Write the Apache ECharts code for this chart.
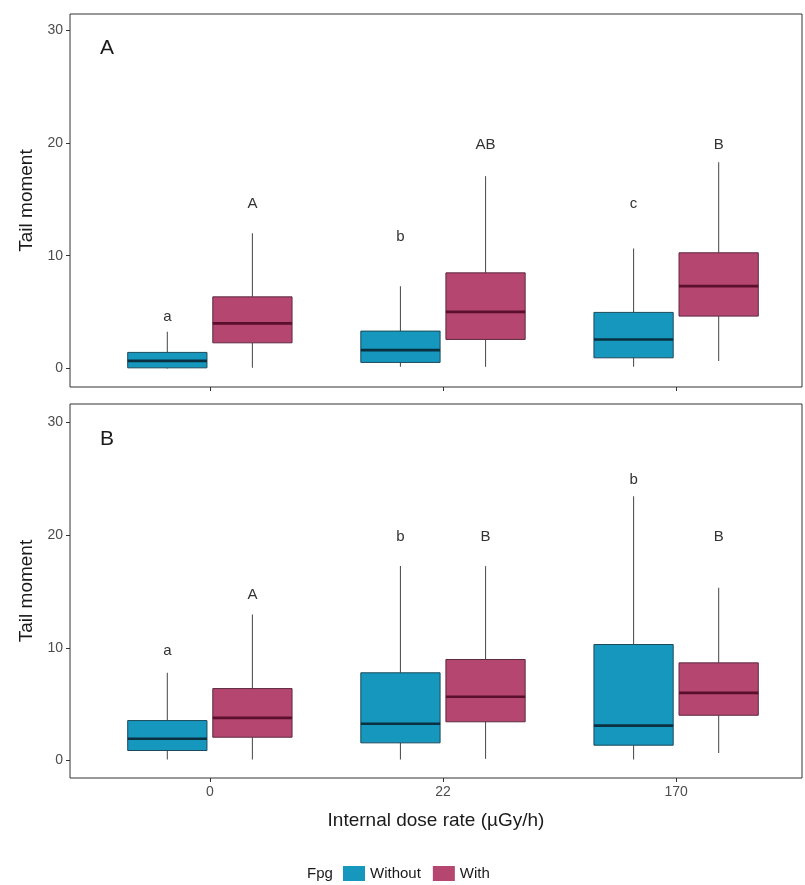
<!DOCTYPE html>
<html>
<head>
<meta charset="utf-8">
<script src="https://cdn.jsdelivr.net/npm/echarts@6/dist/echarts.min.js"></script>
<style>
html,body{margin:0;padding:0;background:#fff;}
#chart{width:805px;height:885px;}
</style>
</head>
<body>
<div id="chart"></div>
<script>
// ---- data ----
const categories = ['0', '22', '170'];
const groups = ['Without', 'With'];
const yTicks = [0, 10, 20, 30];

// Panel A – Without
const aWithoutLow  = [0.00, 0.14, 0.14];
const aWithoutQ1   = [0.05, 0.53, 0.94];
const aWithoutMed  = [0.67, 1.62, 2.57];
const aWithoutQ3   = [1.42, 3.31, 4.97];
const aWithoutHigh = [3.25, 7.30, 10.65];
const aWithoutLetters = ['a', 'b', 'c'];
const aWithoutLetterY = [4.6, 11.7, 14.6];
// Panel A – With
const aWithLow  = [0.05, 0.14, 0.65];
const aWithQ1   = [2.27, 2.57, 4.64];
const aWithMed  = [4.00, 5.02, 7.30];
const aWithQ3   = [6.35, 8.48, 10.26];
const aWithHigh = [12.00, 17.06, 18.30];
const aWithLetters = ['A', 'AB', 'B'];
const aWithLetterY = [14.6, 19.8, 19.8];

// Panel B – Without
const bWithoutLow  = [0.09, 0.09, 0.09];
const bWithoutQ1   = [0.89, 1.57, 1.36];
const bWithoutMed  = [1.93, 3.26, 3.10];
const bWithoutQ3   = [3.55, 7.79, 10.30];
const bWithoutHigh = [7.79, 17.26, 23.47];
const bWithoutLetters = ['a', 'b', 'b'];
const bWithoutLetterY = [9.7, 19.87, 24.96];
// Panel B – With
const bWithLow  = [0.09, 0.15, 0.68];
const bWithQ1   = [2.07, 3.44, 4.02];
const bWithMed  = [3.79, 5.66, 6.01];
const bWithQ3   = [6.39, 8.97, 8.67];
const bWithHigh = [12.97, 17.26, 15.34];
const bWithLetters = ['A', 'B', 'B'];
const bWithLetterY = [14.7, 19.87, 19.87];

// ---- styles ----
const FILL = { Without: '#1597BE', With: '#B4466F' };
const BORDER = { Without: '#1d4a5a', With: '#5e2a40' };
const MEDIAN = { Without: '#0b3040', With: '#5a0f2c' };
const DODGE = 0.1825;
const BOXW = 0.34;

function buildData(low, q1, med, q3, high, letterY, g) {
  return categories.map((c, i) =>
    [i + 1 + (g === 0 ? -DODGE : DODGE), low[i], q1[i], med[i], q3[i], high[i], letterY[i]]);
}

const letterStore = {};
function makeRender(group) {
  return function (params, api) {
    const x = api.value(0);
    const pLow = api.coord([x, api.value(1)]);
    const pQ1 = api.coord([x, api.value(2)]);
    const pMed = api.coord([x, api.value(3)]);
    const pQ3 = api.coord([x, api.value(4)]);
    const pHigh = api.coord([x, api.value(5)]);
    const pLet = api.coord([x, api.value(6)]);
    const hw = api.size([BOXW, 0])[0] / 2;
    const letter = letterStore[params.seriesIndex][params.dataIndex];
    return {
      type: 'group',
      children: [
        { type: 'line', shape: { x1: pHigh[0], y1: pHigh[1], x2: pQ3[0], y2: pQ3[1] },
          style: { stroke: '#555', lineWidth: 1.1 } },
        { type: 'line', shape: { x1: pQ1[0], y1: pQ1[1], x2: pLow[0], y2: pLow[1] },
          style: { stroke: '#555', lineWidth: 1.1 } },
        { type: 'rect', shape: { x: pQ3[0] - hw, y: pQ3[1], width: hw * 2, height: pQ1[1] - pQ3[1] },
          style: { fill: FILL[group], stroke: BORDER[group], lineWidth: 1 } },
        { type: 'line', shape: { x1: pMed[0] - hw, y1: pMed[1], x2: pMed[0] + hw, y2: pMed[1] },
          style: { stroke: MEDIAN[group], lineWidth: 2.6 } },
        { type: 'text', x: pLet[0], y: pLet[1],
          style: { text: letter, align: 'center', verticalAlign: 'middle',
                   fontSize: 15, fontFamily: 'Liberation Sans, Arial, sans-serif', fill: '#333' } }
      ]
    };
  };
}

const panels = [
  { without: [aWithoutLow, aWithoutQ1, aWithoutMed, aWithoutQ3, aWithoutHigh, aWithoutLetters, aWithoutLetterY],
    with: [aWithLow, aWithQ1, aWithMed, aWithQ3, aWithHigh, aWithLetters, aWithLetterY] },
  { without: [bWithoutLow, bWithoutQ1, bWithoutMed, bWithoutQ3, bWithoutHigh, bWithoutLetters, bWithoutLetterY],
    with: [bWithLow, bWithQ1, bWithMed, bWithQ3, bWithHigh, bWithLetters, bWithLetterY] }
];

const series = [];
panels.forEach((p, pi) => {
  [['Without', p.without, 0], ['With', p.with, 1]].forEach(([name, arr, g]) => {
    const idx = series.length;
    letterStore[idx] = arr[5];
    series.push({
      type: 'custom',
      name: name,
      xAxisIndex: pi,
      yAxisIndex: pi,
      itemStyle: { color: FILL[name], borderColor: BORDER[name] },
      encode: { x: 0, y: [1, 2, 3, 4, 5] },
      renderItem: makeRender(name),
      data: buildData(arr[0], arr[1], arr[2], arr[3], arr[4], arr[6], g),
      silent: true
    });
  });
});

const FONT = 'Liberation Sans, Arial, sans-serif';
function xAxis(gi, showLabels) {
  return {
    type: 'value', gridIndex: gi, min: 0.4, max: 3.54,
    axisLine: { show: false, onZero: false },
    splitLine: { show: false },
    axisTick: { show: true, customValues: [1, 2, 3], length: 4, lineStyle: { color: '#333' } },
    axisLabel: { show: showLabels, customValues: [1, 2, 3],
      formatter: v => categories[Math.round(v) - 1],
      color: '#4d4d4d', fontSize: 14, fontFamily: FONT, margin: 7 },
    name: showLabels ? 'Internal dose rate (µGy/h)' : '',
    nameLocation: 'middle', nameGap: 33,
    nameTextStyle: { fontSize: 19, color: '#1a1a1a', fontFamily: FONT }
  };
}
function yAxis(gi, min, max) {
  return {
    type: 'value', gridIndex: gi, min: min, max: max,
    axisLine: { show: false, onZero: false },
    splitLine: { show: false },
    axisTick: { show: true, customValues: yTicks, length: 4, lineStyle: { color: '#333' } },
    axisLabel: { customValues: yTicks, color: '#4d4d4d', fontSize: 14, fontFamily: FONT, margin: 7 },
    name: 'Tail moment', nameLocation: 'middle', nameGap: 31, nameRotate: 90,
    nameTextStyle: { fontSize: 19, color: '#1a1a1a', fontFamily: FONT }
  };
}

const chart = echarts.init(document.getElementById('chart'), null, { renderer: 'canvas' });
chart.setOption({
  backgroundColor: '#fff',
  animation: false,
  title: [
    { text: 'A', left: 95, top: 33, textStyle: { fontSize: 21, fontWeight: 'normal', color: '#1a1a1a', fontFamily: FONT } },
    { text: 'B', left: 95, top: 424, textStyle: { fontSize: 21, fontWeight: 'normal', color: '#1a1a1a', fontFamily: FONT } },
    { text: 'Fpg', left: 302, top: 861, textStyle: { fontSize: 15, fontWeight: 'normal', color: '#1a1a1a', fontFamily: FONT } }
  ],
  legend: {
    data: groups, left: 338, top: 861, itemWidth: 22, itemHeight: 15, itemGap: 12, icon: 'rect',
    textStyle: { fontSize: 15, color: '#1a1a1a', fontFamily: FONT },
    selectedMode: false
  },
  grid: [
    { left: 70, top: 14, width: 732, height: 373, show: true, borderColor: '#333', borderWidth: 1, backgroundColor: 'transparent' },
    { left: 70, top: 404, width: 732, height: 374, show: true, borderColor: '#333', borderWidth: 1, backgroundColor: 'transparent' }
  ],
  xAxis: [xAxis(0, false), xAxis(1, true)],
  yAxis: [yAxis(0, -1.65, 31.45), yAxis(1, -1.55, 31.65)],
  series: series
});
</script>
</body>
</html>
